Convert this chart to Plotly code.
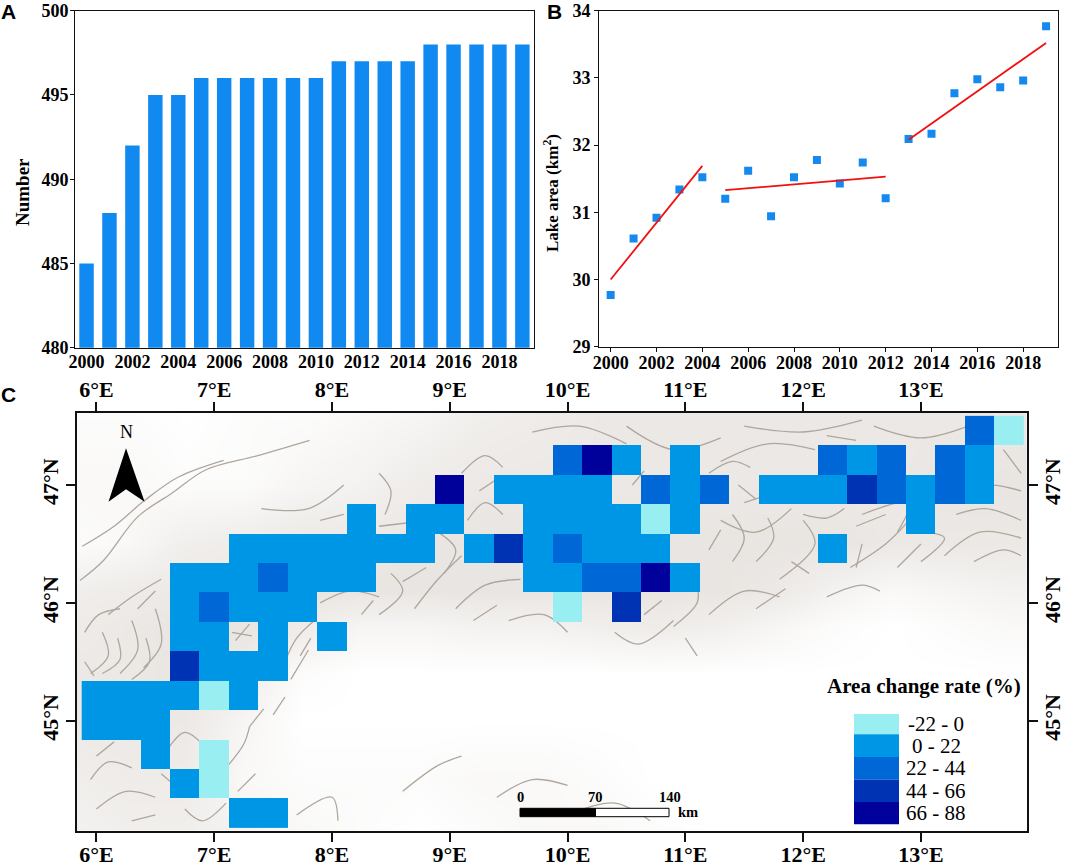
import plotly.graph_objects as go

W, H = 1065, 867
SERIF = "Liberation Serif"
SANS = "Liberation Sans"

# ---------- Data ----------
years = list(range(2000, 2020))
lake_number = [485, 488, 492, 495, 495, 496, 496, 496, 496, 496, 496, 497, 497, 497, 497, 498, 498, 498, 498, 498]
lake_area = [29.77, 30.61, 30.92, 31.34, 31.52, 31.20, 31.62, 30.94, 31.52, 31.78, 31.43, 31.74, 31.21,
             32.09, 32.17, 32.77, 32.98, 32.86, 32.96, 33.77]
year_ticks = list(range(2000, 2020, 2))

fit_years = [[2000, 2004], [2005, 2012], [2013, 2019]]
fit_area = [[30.0, 31.69], [31.33, 31.53], [32.08, 33.52]]

# grid cells, class 1 to 5 by (lat row, lon)
grid_lon = [6 + 0.25 * i for i in range(32)]
grid_lat = [47.462, 47.212, 46.962, 46.712, 46.462, 46.212, 45.962, 45.712, 45.462, 45.212, 44.962, 44.712, 44.462, 44.212]
cells = {
    0: {13.5: 3, 13.75: 1},
    1: {10.0: 3, 10.25: 5, 10.5: 2, 11.0: 2, 12.25: 3, 12.5: 2, 12.75: 3, 13.25: 3, 13.5: 2},
    2: {9.0: 5, 9.5: 2, 9.75: 2, 10.0: 2, 10.25: 2, 10.75: 3, 11.0: 2, 11.25: 3, 11.75: 2, 12.0: 2, 12.25: 2,
        12.5: 4, 12.75: 3, 13.0: 2, 13.25: 3, 13.5: 2},
    3: {8.25: 2, 8.75: 2, 9.0: 2, 9.75: 2, 10.0: 2, 10.25: 2, 10.5: 2, 10.75: 1, 11.0: 2, 13.0: 2},
    4: {7.25: 2, 7.5: 2, 7.75: 2, 8.0: 2, 8.25: 2, 8.5: 2, 8.75: 2, 9.25: 2, 9.5: 4, 9.75: 2, 10.0: 3,
        10.25: 2, 10.5: 2, 10.75: 2, 12.25: 2},
    5: {6.75: 2, 7.0: 2, 7.25: 2, 7.5: 3, 7.75: 2, 8.0: 2, 8.25: 2, 9.75: 2, 10.0: 2, 10.25: 3, 10.5: 3,
        10.75: 5, 11.0: 2},
    6: {6.75: 2, 7.0: 3, 7.25: 2, 7.5: 2, 7.75: 2, 10.0: 1, 10.5: 4},
    7: {6.75: 2, 7.0: 2, 7.5: 2, 8.0: 2},
    8: {6.75: 4, 7.0: 2, 7.25: 2, 7.5: 2},
    9: {6.0: 2, 6.25: 2, 6.5: 2, 6.75: 2, 7.0: 1, 7.25: 2},
    10: {6.0: 2, 6.25: 2, 6.5: 2},
    11: {6.5: 2, 7.0: 1},
    12: {6.75: 2, 7.0: 1},
    13: {7.25: 2, 7.5: 2},
}
class_colors = ["#98EEF0", "#0096E6", "#0068D6", "#0033B4", "#00009A"]
class_labels = ["-22 - 0", "0 - 22", "22 - 44", "44 - 66", "66 - 88"]

lon_ticks = [6, 7, 8, 9, 10, 11, 12, 13]
lon_labels = ["6°E", "7°E", "8°E", "9°E", "10°E", "11°E", "12°E", "13°E"]
lat_ticks = [45, 46, 47]
lat_labels = ["45°N", "46°N", "47°N"]

# coarse darkness of the shaded relief (0 white, 9 darkest), judged from the map
tone_lon = [5.75 + 0.5 * i for i in range(17)]
tone_lat = [47.6, 47.0, 46.5, 46.1, 45.8, 45.4, 45.0, 44.5, 44.05]
tone = [
    [1, 1, 0, 1, 1, 2, 3, 5, 6, 7, 7, 7, 7, 7, 7, 7, 7],
    [2, 2, 1, 1, 3, 4, 6, 7, 7, 7, 7, 7, 7, 7, 7, 8, 8],
    [1, 2, 5, 6, 7, 7, 8, 8, 8, 8, 8, 8, 8, 8, 7, 7, 7],
    [5, 6, 7, 7, 8, 8, 8, 8, 8, 8, 8, 8, 7, 4, 2, 3, 4],
    [6, 7, 8, 8, 6, 3, 3, 4, 4, 5, 6, 5, 3, 1, 0, 1, 2],
    [7, 7, 8, 6, 1, 0, 0, 0, 0, 0, 0, 0, 0, 0, 0, 0, 0],
    [7, 7, 7, 3, 0, 0, 0, 0, 0, 0, 0, 0, 0, 0, 0, 0, 0],
    [5, 6, 6, 2, 1, 1, 1, 2, 2, 1, 0, 0, 0, 0, 0, 0, 0],
    [4, 5, 5, 4, 2, 1, 0, 1, 2, 2, 1, 0, 0, 0, 0, 0, 0],
]

# main ridges of the shaded relief
relief_lines = [
    [(5.86, 46.19), (6.06, 46.36), (6.35, 46.73), (6.64, 46.93), (6.93, 47.13), (7.37, 47.25), (7.81, 47.38)],
    [(5.88, 46.48), (6.15, 46.65), (6.41, 46.87), (6.7, 47.07), (7.08, 47.21)],
    [(5.95, 45.4), (6.1, 45.55), (6.05, 45.75)], [(6.2, 45.4), (6.35, 45.6), (6.3, 45.85)],
    [(6.4, 45.45), (6.55, 45.65), (6.5, 45.95)], [(6.1, 45.9), (6.3, 46.05), (6.55, 46.2)],
    [(5.9, 45.75), (6.02, 45.9), (6.2, 45.95)], [(6.05, 45.4), (6.2, 45.52), (6.18, 45.7)],
    [(6.3, 45.35), (6.45, 45.5), (6.42, 45.7)], [(6.35, 45.95), (6.5, 46.1)], [(5.9, 45.5), (5.98, 45.38)],
    [(7.6, 45.5), (7.7, 45.7), (7.85, 45.85)], [(7.65, 45.35), (7.8, 45.6)], [(7.73, 45.55), (7.82, 45.7)],
    [(7.18, 45.68), (7.3, 45.82)], [(7.15, 45.75), (7.32, 45.72)],
    [(7.9, 46.0), (8.15, 46.1), (8.4, 46.05)], [(8.4, 45.9), (8.6, 46.1), (8.5, 46.25)], [(8.25, 45.9), (8.35, 46.02)],
    [(8.7, 45.95), (8.9, 46.2), (9.1, 46.4)], [(9.05, 45.95), (9.3, 46.15), (9.6, 46.2)], [(8.6, 46.18), (8.8, 46.3)],
    [(8.95, 46.25), (9.05, 46.45), (8.9, 46.6)], [(7.4, 46.8), (7.8, 46.8), (8.1, 47.0)], [(7.9, 46.7), (8.1, 46.75)],
    [(8.45, 46.75), (8.5, 46.95), (8.4, 47.1)], [(9.15, 46.7), (9.3, 46.85), (9.45, 46.75)], [(8.4, 46.65), (8.65, 46.68)],
    [(9.1, 47.1), (9.3, 47.25), (9.45, 47.15)], [(9.7, 47.45), (10.1, 47.5), (10.5, 47.35)], [(9.25, 46.95), (9.4, 47.05)],
    [(10.5, 47.5), (10.9, 47.3), (11.3, 47.4)], [(11.3, 47.2), (11.7, 47.35), (12.1, 47.3)],
    [(11.5, 47.5), (12.0, 47.45), (12.5, 47.55)], [(12.6, 47.5), (13.0, 47.4), (13.4, 47.5)],
    [(11.2, 47.1), (11.4, 47.2), (11.55, 47.15)], [(10.55, 47.0), (10.65, 47.12)], [(12.2, 47.42), (12.45, 47.38)],
    [(11.3, 46.7), (11.6, 46.6), (11.9, 46.8)], [(11.4, 46.35), (11.5, 46.55), (11.4, 46.75)],
    [(11.8, 46.2), (12.1, 46.5), (12.0, 46.7)], [(12.4, 46.3), (12.7, 46.5), (12.9, 46.7)],
    [(12.5, 46.75), (12.9, 46.85), (12.8, 46.6)], [(13.2, 46.4), (13.5, 46.6), (13.85, 46.55)],
    [(13.3, 46.75), (13.55, 46.8), (13.85, 46.7)], [(13.3, 46.95), (13.6, 47.0), (13.85, 46.95)],
    [(11.2, 46.45), (11.3, 46.62)], [(11.6, 46.35), (11.75, 46.55), (11.7, 46.72)], [(11.9, 46.35), (12.05, 46.25)],
    [(12.0, 46.75), (12.2, 46.72), (12.35, 46.8)], [(12.5, 46.5), (12.45, 46.3)], [(12.8, 46.3), (13.0, 46.5)],
    [(13.0, 46.35), (13.2, 46.55), (13.05, 46.6)], [(13.45, 46.35), (13.7, 46.45), (13.85, 46.4)],
    [(11.5, 46.85), (11.8, 46.95)], [(11.45, 47.0), (11.6, 46.88)], [(12.45, 46.65), (12.7, 46.75)],
    [(13.7, 47.3), (13.85, 47.1)], [(11.2, 45.9), (11.5, 46.1), (11.8, 46.05)], [(11.6, 45.95), (11.85, 46.12)],
    [(10.4, 45.75), (10.6, 45.65), (10.9, 45.85)], [(10.9, 45.8), (11.1, 46.0), (11.1, 46.15)],
    [(9.5, 45.85), (9.8, 45.9), (10.0, 45.75)], [(12.2, 46.05), (12.5, 46.15), (12.65, 46.1)],
    [(9.2, 45.85), (9.4, 45.98)], [(10.65, 45.9), (10.8, 46.02)], [(11.0, 45.7), (11.1, 45.55)],
    [(5.95, 44.5), (6.1, 44.65), (6.3, 44.6)], [(6.0, 44.25), (6.25, 44.4), (6.5, 44.35)],
    [(6.6, 44.75), (6.75, 44.9), (6.9, 44.8)], [(7.1, 44.6), (7.25, 44.8), (7.3, 44.95)],
    [(6.75, 44.25), (6.9, 44.15), (7.1, 44.3)], [(7.7, 44.2), (8.0, 44.35), (8.05, 44.15)],
    [(6.0, 44.7), (6.15, 44.82)], [(6.55, 44.55), (6.7, 44.42)], [(7.2, 44.4), (7.35, 44.55)], [(6.3, 44.15), (6.5, 44.2)],
    [(7.5, 45.05), (7.6, 45.2)], [(7.3, 44.95), (7.42, 45.1)],
    [(9.4, 44.35), (9.7, 44.5), (10.0, 44.45)], [(10.0, 44.2), (10.4, 44.3), (10.7, 44.15)],
    [(8.6, 44.4), (8.9, 44.62), (9.1, 44.7)],
]

# ---------- Plotting ----------
def dom_x(a, b):
    return [a / W, b / W]

def dom_y(top, bottom):
    return [1 - bottom / H, 1 - top / H]

fig = go.Figure()

fig.add_trace(go.Bar(x=years, y=lake_number, width=0.63, marker_color="#1089F0", marker_line_width=0,
                     xaxis="x", yaxis="y", showlegend=False))

fig.add_trace(go.Scatter(x=years, y=lake_area, mode="markers", xaxis="x2", yaxis="y2", showlegend=False,
                         marker=dict(symbol="square", size=8, color="#1589EE")))
for fx, fy in zip(fit_years, fit_area):
    fig.add_trace(go.Scatter(x=fx, y=fy, mode="lines", line=dict(color="#F01010", width=1.8),
                             xaxis="x2", yaxis="y2", showlegend=False))

# relief on the base map axes, the cells sit on the overlaying pair so they draw on top
fig.add_trace(go.Heatmap(x=tone_lon, y=tone_lat, z=tone, zmin=0, zmax=9, zsmooth="best", showscale=False,
                         colorscale=[[0, "#FFFFFF"], [1, "#E6E2DE"]], xaxis="x3", yaxis="y3", hoverinfo="skip"))
for stroke in relief_lines:
    fig.add_trace(go.Scatter(x=[p[0] for p in stroke], y=[p[1] for p in stroke], mode="lines",
                             line=dict(color="#AFA69D", width=1.3, shape="spline"), xaxis="x3", yaxis="y3",
                             showlegend=False, hoverinfo="skip"))

grid_z = [[cells[r].get(lon) for lon in grid_lon] for r in range(len(grid_lat))]
scale = []
for i, c in enumerate(class_colors):
    scale += [[i / 5, c], [(i + 1) / 5, c]]
fig.add_trace(go.Heatmap(x=grid_lon, y=grid_lat, z=grid_z, zmin=0.5, zmax=5.5, colorscale=scale, showscale=False,
                         xaxis="x4", yaxis="y4"))

tick_font = dict(family=SERIF, size=18, color="black", weight="bold")
map_font = dict(family=SERIF, size=22, color="black", weight="bold")
frame = dict(showgrid=False, zeroline=False, showline=True, linecolor="#111111", mirror=True, linewidth=1.3,
             automargin=False)
map_frame = dict(showgrid=False, zeroline=False, showline=True, linecolor="#111111", linewidth=2, ticks="outside",
                 ticklen=9, tickwidth=1.5, tickcolor="#111111", tickfont=map_font, tickmode="array", automargin=False)
lon_range = [5.835, 13.897]
lat_range = [44.066, 47.614]

fig.update_layout(
    width=W, height=H, margin=dict(l=0, r=0, t=0, b=0), paper_bgcolor="white", plot_bgcolor="white",
    xaxis=dict(domain=dom_x(75.3, 533.6), range=[1999.51, 2019.49], tickmode="array", tickvals=year_ticks,
               ticks="", tickfont=tick_font, anchor="y", ticklabelstandoff=-2, **frame),
    yaxis=dict(domain=dom_y(10.7, 347.7), range=[480, 500], tickmode="array", tickvals=[480, 485, 490, 495, 500],
               ticks="outside", ticklen=4, tickwidth=1.3, tickcolor="#111111", tickfont=tick_font, anchor="x",
               ticklabelstandoff=-2, **frame),
    xaxis2=dict(domain=dom_x(599.2, 1058), range=[1999.5, 2019.52], tickmode="array", tickvals=year_ticks,
                ticks="outside", ticklen=4, tickwidth=1.3, tickcolor="#111111", tickfont=tick_font, anchor="y2",
                ticklabelstandoff=-4, **frame),
    yaxis2=dict(domain=dom_y(10.7, 346.7), range=[29, 34], tickmode="array", tickvals=[29, 30, 31, 32, 33, 34],
                ticks="outside", ticklen=4, tickwidth=1.3, tickcolor="#111111", tickfont=tick_font, anchor="x2", **frame),
    xaxis3=dict(domain=dom_x(77, 1026.6), range=lon_range, tickvals=lon_ticks, ticktext=lon_labels, anchor="y3",
                side="bottom", ticklabelstandoff=-6, **map_frame),
    yaxis3=dict(domain=dom_y(412.7, 830.7), range=lat_range, tickvals=lat_ticks, ticktext=lat_labels, anchor="x3",
                side="left", tickangle=-90, ticklabelstandoff=-1, **map_frame),
    xaxis4=dict(range=lon_range, tickvals=lon_ticks, ticktext=lon_labels, anchor="y4", overlaying="x3",
                side="top", ticklabelstandoff=-4, **map_frame),
    yaxis4=dict(range=lat_range, tickvals=lat_ticks, ticktext=lat_labels, anchor="x4", overlaying="y3",
                side="right", tickangle=-90, ticklabelstandoff=-4, **map_frame),
)

# ---------- Annotations ----------
def px_text(x, y, text, size, bold=False, family=SERIF, angle=0):
    label = f"<b>{text}</b>" if bold else text
    fig.add_annotation(x=x / W, y=1 - y / H, xref="paper", yref="paper", text=label, showarrow=False,
                       font=dict(family=family, size=size, color="black"), textangle=angle,
                       xanchor="center", yanchor="middle")

px_text(9, 11, "A", 21, True, SANS)
px_text(554, 11, "B", 21, True, SANS)
px_text(9, 395, "C", 21, True, SANS)
px_text(22, 192, "Number", 19, True, angle=-90)
px_text(551, 193, "Lake area (km<sup>2</sup>)", 17, True, angle=-90)

# north arrow
px_text(126, 432, "N", 18)
arrow = [(126, 448.3), (144.6, 501.7), (126, 489.3), (108.5, 501.7)]
path = "M " + " L ".join(f"{x / W} {1 - y / H}" for x, y in arrow) + " Z"
fig.add_shape(type="path", path=path, xref="paper", yref="paper", fillcolor="black", line_width=0)

# scale bar
fig.add_shape(type="rect", xref="paper", yref="paper", x0=520 / W, x1=595.5 / W, y0=1 - 816.7 / H, y1=1 - 808.3 / H,
              fillcolor="black", line=dict(color="black", width=1))
fig.add_shape(type="rect", xref="paper", yref="paper", x0=595.5 / W, x1=669 / W, y0=1 - 816.7 / H, y1=1 - 808.3 / H,
              fillcolor="white", line=dict(color="black", width=1))
px_text(520, 797, "0", 14.5, True)
px_text(595, 797, "70", 14.5, True)
px_text(670, 797, "140", 14.5, True)
px_text(688, 812, "km", 14.5, True)

# class legend
px_text(923.5, 686, "Area change rate (%)", 21, True)
legend_edges = [714, 734.3, 757, 779.7, 802, 824.3]
for i, label in enumerate(class_labels):
    fig.add_shape(type="rect", xref="paper", yref="paper", x0=854 / W, x1=899 / W,
                  y0=1 - legend_edges[i + 1] / H, y1=1 - legend_edges[i] / H,
                  fillcolor=class_colors[i], line_width=0)
    px_text(936, (legend_edges[i] + legend_edges[i + 1]) / 2, label, 21)

fig.write_html("out.html", post_script="document.body.style.margin='0';", config=dict(displayModeBar=False))
